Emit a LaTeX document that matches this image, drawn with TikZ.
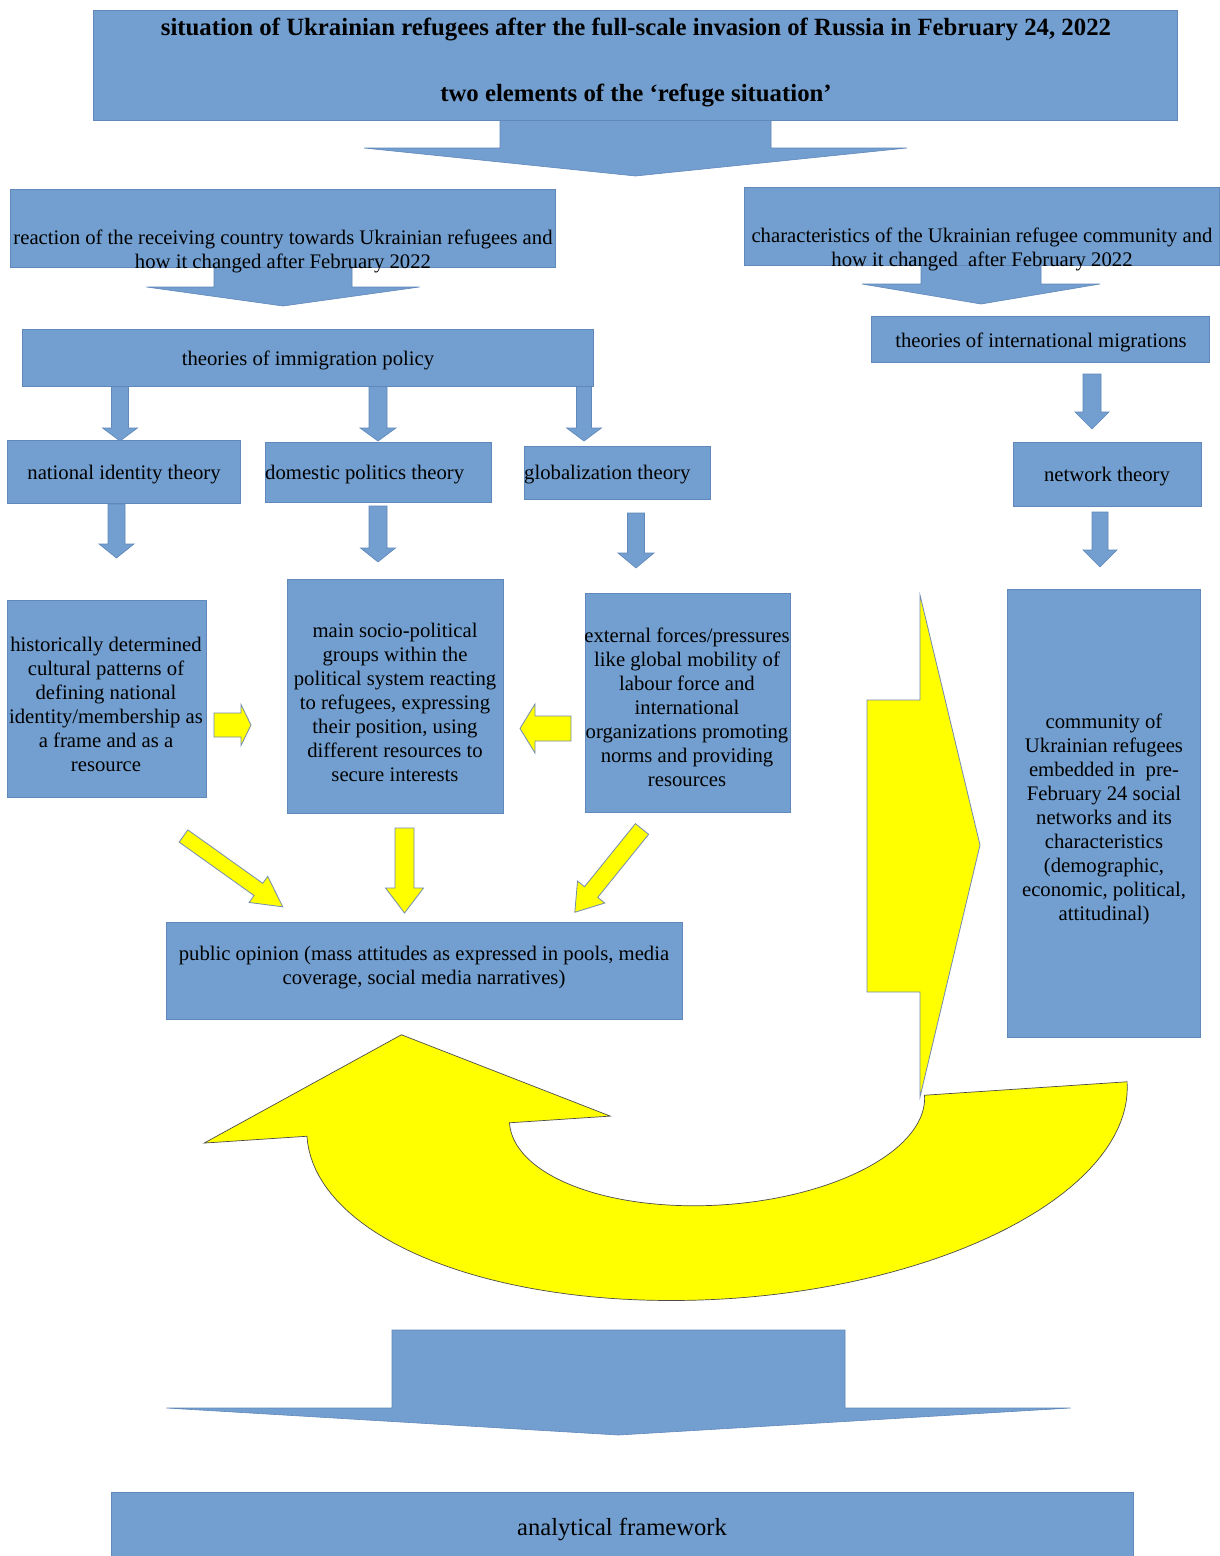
\documentclass[tikz,border=0pt]{standalone}
\usepackage{fontspec}
\setmainfont{Liberation Serif}
\usetikzlibrary{calc}
\definecolor{boxblue}{RGB}{114,159,207}
\definecolor{boxline}{RGB}{96,136,186}
\definecolor{ylw}{RGB}{255,255,0}
\definecolor{ylwline}{RGB}{115,140,175}
\tikzset{
  bbox/.style={fill=boxblue, draw=boxline, line width=0.8pt},
  barrow/.style={fill=boxblue, draw=boxline, line width=0.6pt},
  yarrow/.style={fill=ylw, draw=ylwline, line width=0.8pt},
  curvy/.style={fill=ylw, draw=black!70, line width=0.7pt},
  txt/.style={font=\fontsize{20.7}{24}\selectfont, align=center, inner sep=0pt, text=black},
  ttl/.style={font=\fontsize{24.8}{28}\selectfont\bfseries, align=center, inner sep=0pt, text=black},
}
% rectangle box as a named node: name, x1, y1, x2, y2
\newcommand\rbox[5]{\node[bbox, anchor=north west, inner sep=0pt, minimum width={(#4-#2)*1pt}, minimum height={(#5-#3)*1pt}] (#1) at (#2,#3) {};}
% downward block arrow: style, cx, ytop, shaft half width, ybase, head half width, ytip
\newcommand\darrow[7]{\path[#1] ({#2-#4},#3) -- ({#2+#4},#3) -- ({#2+#4},#5) -- ({#2+#6},#5) -- (#2,#7) -- ({#2-#6},#5) -- ({#2-#4},#5) -- cycle;}
% general block arrow: style, tail x, tail y, angle, length, shaft hw, head hw, head length
\newcommand\garrow[8]{\begin{scope}[shift={(#2,#3)}, rotate=#4]
  \path[#1] (0,-#6) -- ({#5-#8},-#6) -- ({#5-#8},-#7) -- (#5,0) -- ({#5-#8},#7) -- ({#5-#8},#6) -- (0,#6) -- cycle;
\end{scope}}
\begin{document}
\begin{tikzpicture}[x=1pt,y=-1pt]
\useasboundingbox[fill=white] (0,0) rectangle (1219,1556);

% big blue arrows
\darrow{barrow}{635.5}{120}{135.5}{148}{271.5}{176}
\darrow{barrow}{283}{267}{69}{287}{136.5}{306}
\darrow{barrow}{981}{265}{60}{284}{119}{304}
\darrow{barrow}{618.5}{1330}{226.5}{1408}{452}{1435}
% small blue arrows
\darrow{barrow}{120}{386}{8.5}{428}{17.5}{441}
\darrow{barrow}{378}{386}{9}{428}{18}{441}
\darrow{barrow}{584}{386}{7.5}{428}{17.5}{441}
\darrow{barrow}{116.5}{504}{8.5}{544}{17.5}{558}
\darrow{barrow}{378}{506}{9}{548}{17.5}{562}
\darrow{barrow}{636}{513}{8.5}{553}{18}{568}
\darrow{barrow}{1092}{374}{9}{412}{17}{429}
\darrow{barrow}{1100}{512}{8}{550}{17}{567}

% boxes
\rbox{top}{93}{10}{1177}{120}
\rbox{recv}{10}{189}{555}{267}
\rbox{chars}{744}{187}{1219}{265}
\rbox{policy}{22}{329}{593}{386}
\rbox{intl}{871}{316}{1209}{362}
\rbox{natid}{7}{440}{240}{503}
\rbox{domes}{265}{442}{491}{502}
\rbox{glob}{524}{446}{710}{499}
\rbox{netw}{1013}{442}{1201}{506}
\rbox{hist}{7}{600}{206}{797}
\rbox{mainsp}{287}{579}{503}{813}
\rbox{extf}{585}{593}{790}{812}
\rbox{comm}{1007}{589}{1200}{1037}
\rbox{pubop}{166}{922}{682}{1019}
\rbox{analyt}{111}{1492}{1133}{1556}

% yellow arrows
\garrow{yarrow}{214}{725}{0}{37}{12}{20.5}{10}
\garrow{yarrow}{571}{728.5}{180}{51}{12.5}{24.5}{15}
\garrow{yarrow}{183.5}{836}{-35.5}{122}{7.5}{16}{30}
\garrow{yarrow}{642}{829}{-128.9}{107}{8.5}{17.5}{26}
\darrow{yarrow}{404.5}{828}{9.5}{888}{19}{913}

% big curved arrow
\begin{scope}[shift={(717,1109)}, rotate=3.8]
\path[curvy] (208,0) -- (411,0)
  -- plot[domain=0:-180, samples=90] ({411*cos(\x)},{-190*sin(\x)})
  -- (-514,0) -- (-310,-95) -- (-107,0) -- (-208,0)
  -- plot[domain=180:360, samples=90] ({208*cos(\x)},{-96*sin(\x)}) -- cycle;
\end{scope}
% notched right arrow
\path[yarrow] (920,595) -- (980,845) -- (920,1097) -- (920,992) -- (867,992) -- (867,700) -- (920,700) -- cycle;

% texts
\node[ttl] (topA) at (636,30) {situation of Ukrainian refugees after the full-scale invasion of Russia in February 24, 2022};
\node[ttl] (topB) at (636,96) {two elements of the ‘refuge situation’};
\node[txt] (recvT) at (283,251) {reaction of the receiving country towards Ukrainian refugees and\\how it changed after February 2022};
\node[txt] (charsT) at (982,249) {characteristics of the Ukrainian refugee community and\\how it changed~ after February 2022};
\node[txt] (policyT) at (308,360.5) {theories of immigration policy};
\node[txt] (intlT) at (1041,342.5) {theories of international migrations};
\node[txt] (natidT) at (124,475) {national identity theory};
\node[txt, anchor=west] (domesT) at (265,475) {domestic politics theory};
\node[txt, anchor=west] (globT) at (524,475) {globalization theory};
\node[txt] (netwT) at (1107,477) {network theory};
\node[txt] (histT) at (106,704) {historically determined\\cultural patterns of\\defining national\\identity/membership as\\a frame and as a\\resource};
\node[txt] (mainT) at (395,702) {main socio-political\\groups within the\\political system reacting\\to refugees, expressing\\their position, using\\different resources to\\secure interests};
\node[txt] (extfT) at (687,707.5) {external forces/pressures\\like global mobility of\\labour force and\\international\\organizations promoting\\norms and providing\\resources};
\node[txt] (commT) at (1104,819.5) {community of\\Ukrainian refugees\\embedded in~ pre-\\February 24 social\\networks and its\\characteristics\\(demographic,\\economic, political,\\attitudinal)};
\node[txt] (pubopT) at (424,967.5) {public opinion (mass attitudes as expressed in pools, media\\coverage, social media narratives)};
\node[txt, font=\fontsize{24.6}{28}\selectfont] (analytT) at (622,1529) {analytical framework};
\end{tikzpicture}
\end{document}
